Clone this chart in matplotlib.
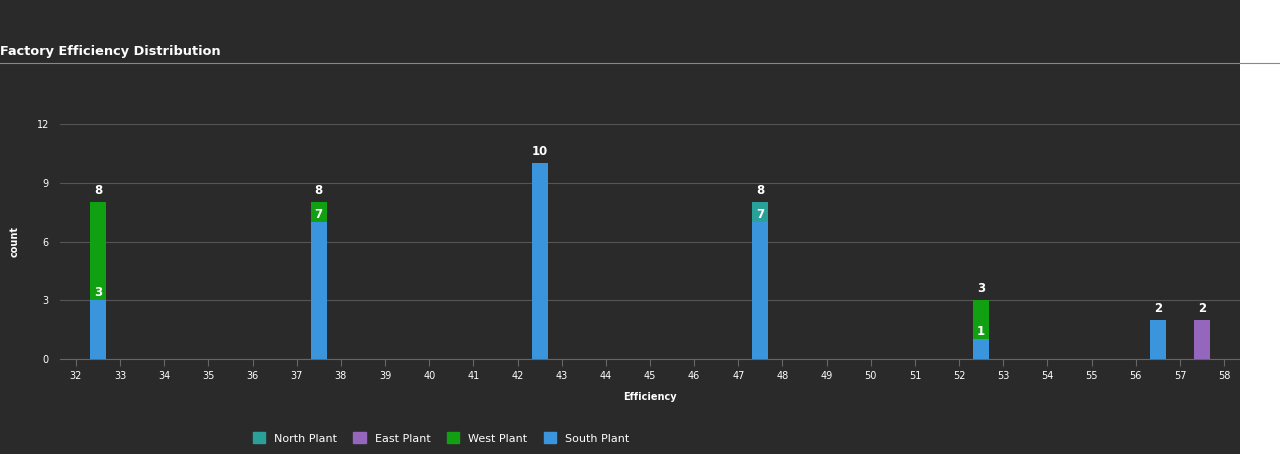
import matplotlib
matplotlib.use('Agg')
import matplotlib.pyplot as plt
from matplotlib.patches import Rectangle
from matplotlib.lines import Line2D

bins = [32.5, 37.5, 42.5, 47.5, 52.5, 56.5, 57.5]
south = [3, 7, 10, 7, 1, 2, 0]
west = [5, 1, 0, 0, 2, 0, 0]
north = [0, 0, 0, 1, 0, 0, 0]
east = [0, 0, 0, 0, 0, 0, 2]
xticks = list(range(32, 59))

C_NORTH, C_EAST, C_WEST, C_SOUTH = '#2aa198', '#9467bd', '#11a011', '#3b95dd'
BG = '#2a2a2a'

fig = plt.figure(figsize=(12.8, 4.54), dpi=100, facecolor=BG)
fig.patches.append(Rectangle((1240 / 1280, 0), 40 / 1280, 1, transform=fig.transFigure,
                             facecolor='white', edgecolor='none', zorder=0))
fig.lines.append(Line2D([0, 1], [1 - 63 / 454] * 2, transform=fig.transFigure,
                        color='#888888', lw=0.8))
fig.text(0.0, 1 - 52 / 454, 'Factory Efficiency Distribution', color='white',
         fontsize=9.3, fontweight='bold', va='center', ha='left')

ax = fig.add_axes([60 / 1280, 1 - 359 / 454, 1180 / 1280, 235 / 454])
ax.set_facecolor(BG)
w = 0.36
bottom = [0] * len(bins)
for vals, c in [(south, C_SOUTH), (west, C_WEST), (north, C_NORTH), (east, C_EAST)]:
    ax.bar(bins, vals, width=w, bottom=bottom, color=c, zorder=3)
    bottom = [b + v for b, v in zip(bottom, vals)]

for x, s, t in zip(bins, south, bottom):
    ax.text(x, t + 0.25, str(t), color='white', ha='center', va='bottom',
            fontsize=8.5, fontweight='bold')
    if 0 < s < t:
        ax.text(x, s + 0.05, str(s), color='white', ha='center', va='bottom',
                fontsize=8.5, fontweight='bold', zorder=4)

ax.set_xlim(31.64, 58.36)
ax.set_ylim(0, 12)
ax.set_xticks(xticks)
ax.set_yticks([0, 3, 6, 9, 12])
ax.tick_params(colors='white', labelsize=7, length=5)
ax.tick_params(axis='y', length=0, pad=8)
ax.tick_params(axis='x', color='#666666')
ax.grid(axis='y', color='#555555', lw=0.8, zorder=0)
for s in ['top', 'right', 'left']:
    ax.spines[s].set_visible(False)
ax.spines['bottom'].set_color('#666666')
ax.set_xlabel('Efficiency', color='white', fontsize=7, fontweight='bold', labelpad=8)
ax.set_ylabel('count', color='white', fontsize=7, fontweight='bold', labelpad=12)

handles = [Rectangle((0, 0), 1, 1, color=c) for c in [C_NORTH, C_EAST, C_WEST, C_SOUTH]]
fig.legend(handles, ['North Plant', 'East Plant', 'West Plant', 'South Plant'],
           loc='center', bbox_to_anchor=(441 / 1280, 1 - 438 / 454), ncol=4,
           frameon=False, labelcolor='white', fontsize=8, handlelength=1.1,
           handleheight=1.1, columnspacing=1.5)

fig.savefig('out.png', facecolor=BG)
